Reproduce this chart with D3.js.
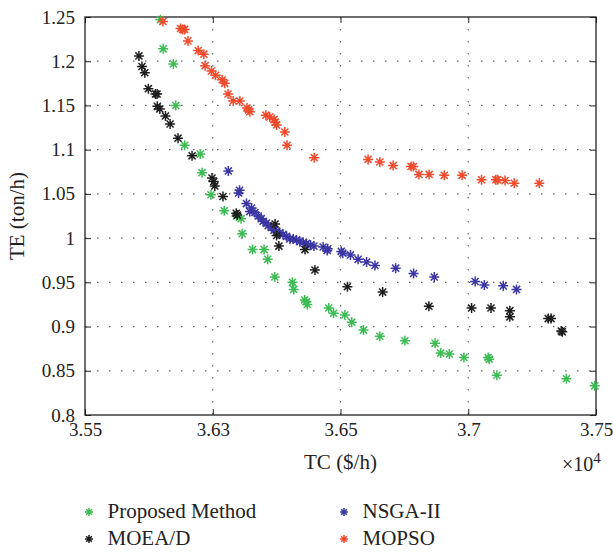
<!DOCTYPE html>
<meta charset="utf-8">
<style>
body { margin: 0; background: #fff; }
svg { font-family: "Liberation Serif", "DejaVu Serif", serif; }
.axis path { display: none; }
.axis line { stroke: #222; stroke-width: 1; }
.axis text { font-size: 19px; fill: #222; font-family: "Liberation Serif", serif; }
.grid line { stroke: #666; stroke-width: 1.2; stroke-dasharray: 1.5,10.5; }
.title { font-size: 21px; fill: #222; }
.legend text { font-size: 21px; fill: #222; }
</style>
<body>
<svg width="613" height="552"></svg>
<script src="https://cdn.jsdelivr.net/npm/d3@7"></script>
<script>

// axis ticks (label text as printed on the original figure)
var xTicks = [35500, 36000, 36500, 37000, 37500];
var xTickLabels = ["3.55", "3.63", "3.65", "3.7", "3.75"];
var yTicks = [0.8, 0.85, 0.9, 0.95, 1, 1.05, 1.1, 1.15, 1.2, 1.25];
var yTickLabels = ["0.8", "0.85", "0.9", "0.95", "1", "1.05", "1.1", "1.15", "1.2", "1.25"];

var seriesNames = ["Proposed Method", "NSGA-II", "MOEA/D", "MOPSO"];
var seriesColors = ["#3dbb55", "#3b36a3", "#1e1e1e", "#f04b2d"];

// Proposed Method
var propTC = [35795, 35806, 35846, 35855, 35890, 35951, 35958, 35993, 36045, 36093,
              36111, 36115, 36156, 36201, 36215, 36243, 36312, 36317, 36360, 36366,
              36370, 36454, 36473, 36517, 36544, 36590, 36654, 36752, 36870, 36892,
              36926, 36983, 37078, 37082, 37112, 37384, 37495];
var propTE = [1.247, 1.214, 1.197, 1.150, 1.105, 1.095, 1.074, 1.049, 1.031, 1.025,
              1.022, 1.005, 0.987, 0.987, 0.976, 0.956, 0.950, 0.942, 0.930, 0.928,
              0.925, 0.921, 0.915, 0.913, 0.905, 0.896, 0.889, 0.884, 0.881, 0.870,
              0.869, 0.865, 0.865, 0.863, 0.845, 0.841, 0.833];

// NSGA-II
var nsgaTC = [36061, 36101, 36105, 36132, 36145, 36152, 36165, 36178, 36190, 36197,
              36210, 36217, 36230, 36240, 36250, 36262, 36275, 36289, 36302, 36315,
              36328, 36341, 36354, 36367, 36383, 36396, 36432, 36448, 36450, 36503,
              36509, 36539, 36569, 36602, 36635, 36716, 36786, 36867, 37027, 37063,
              37137, 37189];
var nsgaTE = [1.076, 1.051, 1.054, 1.039, 1.030, 1.034, 1.029, 1.025, 1.022, 1.019,
              1.017, 1.014, 1.012, 1.009, 1.008, 1.006, 1.004, 1.002, 0.999, 0.999,
              0.998, 0.996, 0.995, 0.994, 0.992, 0.991, 0.990, 0.986, 0.988, 0.985,
              0.983, 0.981, 0.976, 0.973, 0.969, 0.966, 0.960, 0.956, 0.951, 0.947,
              0.946, 0.942];

// MOEA/D
var moeaTC = [35711, 35723, 35734, 35748, 35776, 35782, 35783, 35793, 35815, 35833,
              35864, 35919, 35997, 36004, 36008, 36040, 36092, 36096, 36244, 36250,
              36259, 36361, 36400, 36527, 36665, 36846, 37013, 37089, 37163, 37163,
              37313, 37324, 37364, 37368];
var moeaTE = [1.206, 1.194, 1.187, 1.169, 1.163, 1.163, 1.149, 1.146, 1.138, 1.129,
              1.113, 1.093, 1.068, 1.064, 1.059, 1.047, 1.028, 1.026, 1.016, 1.003,
              0.991, 0.987, 0.964, 0.945, 0.939, 0.923, 0.921, 0.921, 0.918, 0.911,
              0.909, 0.909, 0.895, 0.894];

// MOPSO
var mopsoTC = [35805, 35874, 35882, 35890, 35903, 35943, 35965, 35970, 35995, 36011,
               36037, 36047, 36060, 36080, 36106, 36134, 36140, 36145, 36208, 36223,
               36240, 36244, 36250, 36282, 36291, 36397, 36608, 36654, 36706, 36776,
               36785, 36807, 36847, 36906, 36976, 37052, 37108, 37115, 37144, 37180,
               37278];
var mopsoTE = [1.245, 1.237, 1.236, 1.236, 1.223, 1.212, 1.208, 1.195, 1.189, 1.184,
               1.179, 1.175, 1.163, 1.155, 1.155, 1.147, 1.145, 1.143, 1.139, 1.137,
               1.134, 1.131, 1.128, 1.120, 1.105, 1.091, 1.089, 1.086, 1.082, 1.081,
               1.081, 1.072, 1.072, 1.071, 1.071, 1.066, 1.066, 1.066, 1.065, 1.062,
               1.062];

var svg = d3.select("svg"),
    margin = {top: 17, right: 17, bottom: 137, left: 85},
    width = +svg.attr("width") - margin.left - margin.right,
    height = +svg.attr("height") - margin.top - margin.bottom,
    g = svg.append("g").attr("transform", "translate(" + margin.left + "," + margin.top + ")");

var x = d3.scaleLinear().domain([35500, 37500]).range([0, width]);
var y = d3.scaleLinear().domain([0.8, 1.25]).range([height, 0]);

// matlab style asterisk: 4 strokes through the centre
var asterisk = {
  draw: function(ctx, size) {
    var r = Math.sqrt(size) / 2, d = r * Math.SQRT1_2;
    ctx.moveTo(-r, 0); ctx.lineTo(r, 0);
    ctx.moveTo(0, -r); ctx.lineTo(0, r);
    ctx.moveTo(-d, -d); ctx.lineTo(d, d);
    ctx.moveTo(-d, d); ctx.lineTo(d, -d);
  }
};
var star = d3.symbol().type(asterisk).size(100);

// dotted grid
g.append("g").attr("class", "grid")
  .selectAll("line").data(xTicks.slice(1, -1))
  .enter().append("line")
    .attr("x1", x).attr("x2", x).attr("y1", 0).attr("y2", height);
g.append("g").attr("class", "grid")
  .selectAll("line").data(yTicks.slice(1, -1))
  .enter().append("line")
    .attr("x1", 0).attr("x2", width).attr("y1", y).attr("y2", y);

// axes, ticks inside
g.append("g").attr("class", "axis")
  .attr("transform", "translate(0," + height + ")")
  .call(d3.axisBottom(x).tickValues(xTicks).tickSize(-6).tickPadding(8)
    .tickFormat(function(d, i) { return xTickLabels[i]; }));
g.append("g").attr("class", "axis")
  .call(d3.axisLeft(y).tickValues(yTicks).tickSize(-6).tickPadding(10)
    .tickFormat(function(d, i) { return yTickLabels[i]; }));
g.append("g").attr("class", "axis")
  .call(d3.axisTop(x).tickValues(xTicks).tickSize(-6).tickFormat(""));
g.append("g").attr("class", "axis")
  .attr("transform", "translate(" + width + ",0)")
  .call(d3.axisRight(y).tickValues(yTicks).tickSize(-6).tickFormat(""));

g.append("rect")
  .attr("width", width).attr("height", height)
  .attr("fill", "none").attr("stroke", "#222").attr("stroke-width", 1.3);

// points
var series = [
  {tc: propTC, te: propTE, c: seriesColors[0]},
  {tc: nsgaTC, te: nsgaTE, c: seriesColors[1]},
  {tc: moeaTC, te: moeaTE, c: seriesColors[2]},
  {tc: mopsoTC, te: mopsoTE, c: seriesColors[3]}
];
series.forEach(function(s) {
  g.append("g")
    .selectAll("path").data(d3.range(s.tc.length))
    .enter().append("path")
      .attr("d", star)
      .attr("transform", function(i) { return "translate(" + x(s.tc[i]) + "," + y(s.te[i]) + ")"; })
      .attr("fill", "none")
      .attr("stroke", s.c)
      .attr("stroke-width", 1.5);
});

// titles
svg.append("text").attr("class", "title")
  .attr("x", margin.left + width / 2).attr("y", 469)
  .attr("text-anchor", "middle").text("TC ($/h)");
var mult = svg.append("text").attr("class", "title")
  .attr("x", 562).attr("y", 471).style("font-size", "20px");
mult.append("tspan").text("×10");
mult.append("tspan").attr("dy", -8).style("font-size", "15px").text("4");
svg.append("text").attr("class", "title")
  .attr("transform", "translate(24," + (margin.top + height / 2) + ") rotate(-90)")
  .attr("text-anchor", "middle").text("TE (ton/h)");

// legend
var legPos = [[89, 518], [344, 518], [89, 545], [344, 545]];
var leg = svg.append("g").attr("class", "legend")
  .selectAll("g").data(seriesNames)
  .enter().append("g")
    .attr("transform", function(d, i) { return "translate(" + legPos[i][0] + "," + legPos[i][1] + ")"; });
leg.append("path")
  .attr("d", d3.symbol().type(asterisk).size(64))
  .attr("transform", "translate(0,-6)")
  .attr("fill", "none")
  .attr("stroke", function(d, i) { return seriesColors[i]; })
  .attr("stroke-width", 1.5);
leg.append("text").attr("x", 18.5).text(function(d) { return d; });

</script>
